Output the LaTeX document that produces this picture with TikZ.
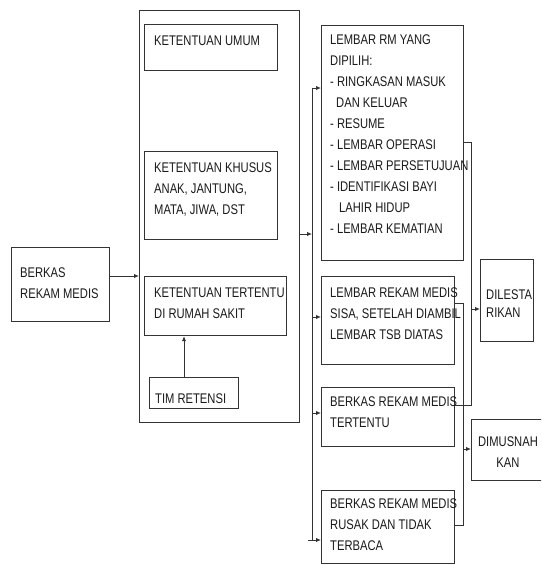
\documentclass[tikz,border=0pt]{standalone}
\usepackage{fontspec}
\setmainfont{Liberation Sans}[FakeStretch=0.8]
\usetikzlibrary{arrows.meta}
\definecolor{lc}{HTML}{333333}
\definecolor{tc}{HTML}{1A1A1A}
\newcommand{\fsz}{\fontsize{14pt}{21pt}\selectfont}
\tikzset{
  box/.style={draw=lc, line width=1.2pt, inner sep=0pt, anchor=north west},
  txt/.style={anchor=north west, inner sep=0pt, align=left, font=\fsz, text=tc},
  arr/.style={draw=lc, line width=1pt, -{Latex[length=5pt,width=4.5pt]}},
  ln/.style={draw=lc, line width=1pt},
}
\begin{document}
\begin{tikzpicture}[x=1pt,y=-1pt]
\clip (0,0) rectangle (541,565);
\fill[white] (0,0) rectangle (541,565);
% boxes
\node[box, minimum width=98, minimum height=74] (berkas) at (11,247) {};
\node[box, minimum width=160, minimum height=412] (cont) at (139,10) {};
\node[box, minimum width=133, minimum height=46] (umum) at (144,24) {};
\node[box, minimum width=133, minimum height=88] (khusus) at (144,151) {};
\node[box, minimum width=142, minimum height=59] (tertentu) at (144,276) {};
\node[box, minimum width=89, minimum height=31] (tim) at (149,377) {};
\node[box, minimum width=142, minimum height=235] (lembar) at (321,25) {};
\node[box, minimum width=133, minimum height=88] (sisa) at (321,276) {};
\node[box, minimum width=133, minimum height=59] (btentu) at (321,387) {};
\node[box, minimum width=133, minimum height=73] (rusak) at (321,490) {};
\node[box, minimum width=53, minimum height=82] (dilest) at (480,259) {};
\node[box, minimum width=80, minimum height=61] (musnah) at (471,419) {};
% texts
\node[txt] (t-berkas) at (20,268) {BERKAS\\REKAM MEDIS};
\node[txt] (t-umum) at (154,36) {KETENTUAN UMUM};
\node[txt] (t-khusus) at (154,163) {KETENTUAN KHUSUS\\ANAK, JANTUNG,\\MATA, JIWA, DST};
\node[txt] (t-tertentu) at (154,288) {KETENTUAN TERTENTU\\DI RUMAH SAKIT};
\node[txt] (t-tim) at (155,394) {TIM RETENSI};
\node[txt] (t-lembar) at (330,35) {LEMBAR RM YANG\\DIPILIH:\\- RINGKASAN MASUK\\\hspace*{6pt}DAN KELUAR\\- RESUME\\- LEMBAR OPERASI\\- LEMBAR PERSETUJUAN\\- IDENTIFIKASI BAYI\\\hspace*{9pt}LAHIR HIDUP\\- LEMBAR KEMATIAN};
\node[txt] (t-sisa) at (330,288) {LEMBAR REKAM MEDIS\\SISA, SETELAH DIAMBIL\\LEMBAR TSB DIATAS};
\node[txt] (t-btentu) at (330,397) {BERKAS REKAM MEDIS\\TERTENTU};
\node[txt] (t-rusak) at (330,499) {BERKAS REKAM MEDIS\\RUSAK DAN TIDAK\\TERBACA};
\node[txt, font=\fontsize{14pt}{18pt}\selectfont] (t-dilest) at (486,290) {DILESTA\\RIKAN};
\node[txt, anchor=north, align=center] (t-musnah) at (508,437) {DIMUSNAH\\KAN};
% junction coordinates
\coordinate (jin) at (0,276);
\coordinate (jtim) at (184,0);
\coordinate (jout) at (312,234);
\coordinate (b1) at (312,88);
\coordinate (b2) at (312,317);
\coordinate (b3) at (312,413);
\coordinate (b4) at (312,540);
\coordinate (a1) at (471,142);
\coordinate (a2) at (471,405);
\coordinate (a3) at (471,309);
\coordinate (c1) at (463,303);
\coordinate (c2) at (463,525);
\coordinate (c3) at (463,449);
% connectors
\draw[arr] (berkas.east |- jin) -- (cont.west |- jin);
\draw[arr] (tim.north -| jtim) -- (tertentu.south -| jtim);
\draw[arr] (cont.east |- jout) -- (jout);
\draw[ln] (b1) -- (b4);
\draw[arr] (b1) -- (lembar.west |- b1);
\draw[arr] (b2) -- (sisa.west |- b2);
\draw[arr] (b3) -- (btentu.west |- b3);
\draw[arr] ([xshift=-4]b4) -- (rusak.west |- b4);
\draw[ln] (lembar.east |- a1) -- (a1) -- (a2) -- (btentu.east |- a2);
\draw[arr] (a3) -- (dilest.west |- a3);
\draw[ln] (sisa.east |- c1) -- (c1) -- (c2) -- (rusak.east |- c2);
\draw[arr] (c3) -- (musnah.west |- c3);
\end{tikzpicture}
\end{document}
